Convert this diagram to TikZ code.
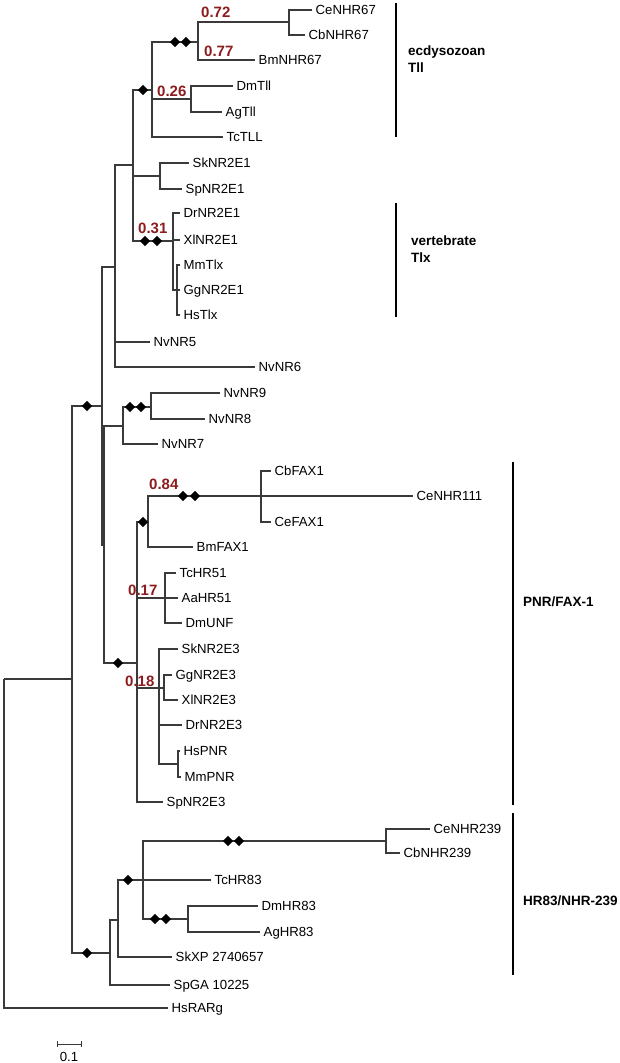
\documentclass[tikz,border=0pt]{standalone}
\usepackage{fontspec}
\setmainfont{Liberation Sans}
\usepackage{tikz}
\usetikzlibrary{shapes.geometric}
\definecolor{BootRed}{RGB}{140,28,30}
\definecolor{BranchGray}{RGB}{58,58,58}
\tikzset{
  branch/.style={draw=BranchGray,line width=1.1pt},
  leaf/.style={anchor=west,inner xsep=3.5pt,inner ysep=0pt,text height=9.3pt,text depth=0pt,font=\fontsize{13.2}{15}\selectfont},
  bootmark/.style={diamond,fill=black,inner sep=0pt,minimum size=10.5pt},
  support/.style={anchor=west,inner sep=0pt,text height=10.7pt,text depth=0pt,text=BootRed,font=\bfseries\fontsize{15}{17}\selectfont},
  groupbar/.style={draw=black,line width=2.6pt},
  grouplabel/.style={anchor=west,align=left,inner sep=0pt,font=\bfseries\fontsize{13.5}{17}\selectfont}
}
\begin{document}
\begin{tikzpicture}[x=1pt,y=-1pt]
\useasboundingbox (0,0) rectangle (620,1063);
\coordinate (root) at (4,679);
\coordinate (bilat) at (72,679);
\coordinate (nrtwoe) at (102,406);
\coordinate (tllnr) at (115,267);
\coordinate (tlltlx) at (133,165);
\coordinate (tll) at (152,90);
\coordinate (nhr67) at (198,42);
\coordinate (nhr67ce) at (289,22);
\coordinate (tllins) at (191,99);
\coordinate (nrtwoeone) at (160,176);
\coordinate (tlx) at (173,241);
\coordinate (tlxamn) at (177,290);
\coordinate (nvpnr) at (104,545);
\coordinate (nvA) at (123,426);
\coordinate (nvB) at (151,407);
\coordinate (pnrfax) at (137,663);
\coordinate (fax) at (148,522);
\coordinate (faxce) at (261,496);
\coordinate (hr51) at (165,598);
\coordinate (pnr) at (159,688);
\coordinate (pnrB) at (164,688);
\coordinate (pnrmam) at (178,764);
\coordinate (hr83all) at (110,953);
\coordinate (hr83B) at (118,920);
\coordinate (hr83) at (143,880);
\coordinate (nhr239) at (386,841);
\coordinate (hr83ins) at (188,919);
\node[leaf] (CeNHR67) at (312,10) {CeNHR67};
\node[leaf] (CbNHR67) at (305,35) {CbNHR67};
\node[leaf] (BmNHR67) at (255,60) {BmNHR67};
\node[leaf] (DmTll) at (233,86) {DmTll};
\node[leaf] (AgTll) at (222,112) {AgTll};
\node[leaf] (TcTLL) at (223,137) {TcTLL};
\node[leaf] (SkNR2E1) at (189,163) {SkNR2E1};
\node[leaf] (SpNR2E1) at (182,189) {SpNR2E1};
\node[leaf] (DrNR2E1) at (180,213) {DrNR2E1};
\node[leaf] (XlNR2E1) at (180,240) {XlNR2E1};
\node[leaf] (MmTlx) at (180,265) {MmTlx};
\node[leaf] (GgNR2E1) at (180,290) {GgNR2E1};
\node[leaf] (HsTlx) at (180,315) {HsTlx};
\node[leaf] (NvNR5) at (150,342) {NvNR5};
\node[leaf] (NvNR6) at (255,367) {NvNR6};
\node[leaf] (NvNR9) at (220,393) {NvNR9};
\node[leaf] (NvNR8) at (205,419) {NvNR8};
\node[leaf] (NvNR7) at (158,444) {NvNR7};
\node[leaf] (CbFAX1) at (271,471) {CbFAX1};
\node[leaf] (CeNHR111) at (413,496) {CeNHR111};
\node[leaf] (CeFAX1) at (271,522) {CeFAX1};
\node[leaf] (BmFAX1) at (193,547) {BmFAX1};
\node[leaf] (TcHR51) at (176,573) {TcHR51};
\node[leaf] (AaHR51) at (178,598) {AaHR51};
\node[leaf] (DmUNF) at (182,623) {DmUNF};
\node[leaf] (SkNR2E3) at (178,649) {SkNR2E3};
\node[leaf] (GgNR2E3) at (172,675) {GgNR2E3};
\node[leaf] (XlNR2E3) at (178,700) {XlNR2E3};
\node[leaf] (DrNR2E3) at (182,725) {DrNR2E3};
\node[leaf] (HsPNR) at (180,751) {HsPNR};
\node[leaf] (MmPNR) at (181,777) {MmPNR};
\node[leaf] (SpNR2E3) at (163,802) {SpNR2E3};
\node[leaf] (CeNHR239) at (430,829) {CeNHR239};
\node[leaf] (CbNHR239) at (400,853) {CbNHR239};
\node[leaf] (TcHR83) at (211,880) {TcHR83};
\node[leaf] (DmHR83) at (258,906) {DmHR83};
\node[leaf] (AgHR83) at (260,932) {AgHR83};
\node[leaf] (SkXP) at (172,957) {SkXP 2740657};
\node[leaf] (SpGA) at (170,985) {SpGA 10225};
\node[leaf] (HsRARg) at (168,1008) {HsRARg};
\draw[branch] (root) -- (bilat) (root) |- (HsRARg.west);
\draw[branch] (bilat) |- (nrtwoe) (bilat) |- (hr83all);
\draw[branch] (nrtwoe) |- (tllnr) (nrtwoe) |- (nvpnr);
\draw[branch] (tllnr) |- (tlltlx) (tllnr) |- (NvNR5.west) (tllnr) |- (NvNR6.west);
\draw[branch] (tlltlx) |- (tll) (tlltlx) |- (nrtwoeone) (tlltlx) |- (tlx);
\draw[branch] (tll) |- (nhr67) (tll) |- (tllins) (tll) |- (TcTLL.west);
\draw[branch] (nhr67) |- (nhr67ce) (nhr67) |- (BmNHR67.west);
\draw[branch] (nhr67ce) |- (CeNHR67.west) (nhr67ce) |- (CbNHR67.west);
\draw[branch] (tllins) |- (DmTll.west) (tllins) |- (AgTll.west);
\draw[branch] (nrtwoeone) |- (SkNR2E1.west) (nrtwoeone) |- (SpNR2E1.west);
\draw[branch] (tlx) |- (DrNR2E1.west) (tlx) |- (XlNR2E1.west) (tlx) |- (tlxamn);
\draw[branch] (tlxamn) |- (MmTlx.west) (tlxamn) |- (GgNR2E1.west) (tlxamn) |- (HsTlx.west);
\draw[branch] (nvpnr) |- (nvA) (nvpnr) |- (pnrfax);
\draw[branch] (nvA) |- (nvB) (nvA) |- (NvNR7.west);
\draw[branch] (nvB) |- (NvNR9.west) (nvB) |- (NvNR8.west);
\draw[branch] (pnrfax) |- (fax) (pnrfax) |- (hr51) (pnrfax) |- (pnr) (pnrfax) |- (SpNR2E3.west);
\draw[branch] (fax) |- (faxce) (fax) |- (BmFAX1.west);
\draw[branch] (faxce) |- (CbFAX1.west) (faxce) |- (CeNHR111.west) (faxce) |- (CeFAX1.west);
\draw[branch] (hr51) |- (TcHR51.west) (hr51) |- (AaHR51.west) (hr51) |- (DmUNF.west);
\draw[branch] (pnr) |- (SkNR2E3.west) (pnr) |- (pnrB) (pnr) |- (DrNR2E3.west) (pnr) |- (pnrmam);
\draw[branch] (pnrB) |- (GgNR2E3.west) (pnrB) |- (XlNR2E3.west);
\draw[branch] (pnrmam) |- (HsPNR.west) (pnrmam) |- (MmPNR.west);
\draw[branch] (hr83all) |- (hr83B) (hr83all) |- (SpGA.west);
\draw[branch] (hr83B) |- (hr83) (hr83B) |- (SkXP.west);
\draw[branch] (hr83) |- (nhr239) (hr83) |- (TcHR83.west) (hr83) |- (hr83ins);
\draw[branch] (nhr239) |- (CeNHR239.west) (nhr239) |- (CbNHR239.west);
\draw[branch] (hr83ins) |- (DmHR83.west) (hr83ins) |- (AgHR83.west);
\node[bootmark] (bm1) at (175,42) {};
\node[bootmark] (bm2) at (186,42) {};
\node[bootmark] (bm3) at (143,90) {};
\node[bootmark] (bm4) at (145,241) {};
\node[bootmark] (bm5) at (157,241) {};
\node[bootmark] (bm6) at (87,406) {};
\node[bootmark] (bm7) at (130,407) {};
\node[bootmark] (bm8) at (141,407) {};
\node[bootmark] (bm9) at (143,522) {};
\node[bootmark] (bm10) at (183,496) {};
\node[bootmark] (bm11) at (195,496) {};
\node[bootmark] (bm12) at (118,663) {};
\node[bootmark] (bm13) at (87,953) {};
\node[bootmark] (bm14) at (128,880) {};
\node[bootmark] (bm15) at (228,841) {};
\node[bootmark] (bm16) at (239,841) {};
\node[bootmark] (bm17) at (155,919) {};
\node[bootmark] (bm18) at (166,919) {};
\node[support] (s072) at (201,12) {0.72};
\node[support] (s077) at (204,51) {0.77};
\node[support] (s026) at (157,91) {0.26};
\node[support] (s031) at (138,228) {0.31};
\node[support] (s084) at (149,484) {0.84};
\node[support] (s017) at (128,590) {0.17};
\node[support] (s018) at (125,681) {0.18};
\draw[groupbar] (396,3) -- (396,137);
\draw[groupbar] (396,203) -- (396,317);
\draw[groupbar] (513,462) -- (513,805);
\draw[groupbar] (513,813) -- (513,975);
\node[grouplabel] (tllgroup) at (408,59) {ecdysozoan\\Tll};
\node[grouplabel] (tlxgroup) at (411,249) {vertebrate\\Tlx};
\node[grouplabel] (pnrgroup) at (523,602) {PNR/FAX-1};
\node[grouplabel] (hrgroup) at (523,901) {HR83/NHR-239};
\coordinate (sbleft) at (57,1044);
\coordinate (sbright) at (81,1044);
\draw[branch,line width=0.9pt] (sbleft) -- (sbright);
\draw[branch,line width=0.9pt] ([yshift=-3pt]sbleft) -- ([yshift=3pt]sbleft);
\draw[branch,line width=0.9pt] ([yshift=-3pt]sbright) -- ([yshift=3pt]sbright);
\node[leaf,anchor=center] (sblabel) at (69,1057) {0.1};
\end{tikzpicture}
\end{document}
